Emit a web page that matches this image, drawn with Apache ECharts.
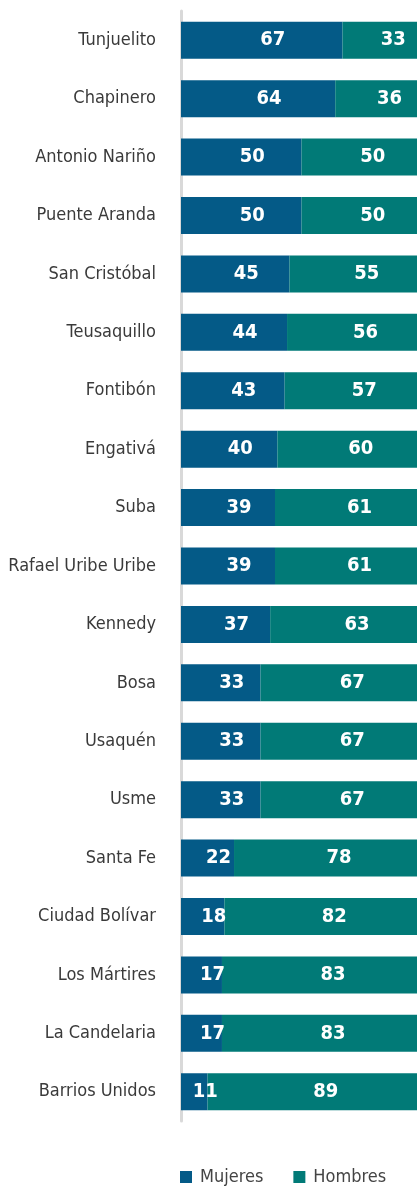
<!DOCTYPE html>
<html>
<head>
<meta charset="utf-8">
<script src="https://cdn.jsdelivr.net/npm/echarts@6/dist/echarts.min.js"></script>
<style>
  html, body { margin: 0; padding: 0; background: #fff; }
  #chart { width: 417px; height: 1188px; }
</style>
</head>
<body>
<div id="chart"></div>
<script>
var localidades = ['Tunjuelito', 'Chapinero', 'Antonio Nariño', 'Puente Aranda', 'San Cristóbal',
  'Teusaquillo', 'Fontibón', 'Engativá', 'Suba', 'Rafael Uribe Uribe', 'Kennedy', 'Bosa',
  'Usaquén', 'Usme', 'Santa Fe', 'Ciudad Bolívar', 'Los Mártires', 'La Candelaria', 'Barrios Unidos'];
var mujeres = [67, 64, 50, 50, 45, 44, 43, 40, 39, 39, 37, 33, 33, 33, 22, 18, 17, 17, 11];
var hombres = [33, 36, 50, 50, 55, 56, 57, 60, 61, 61, 63, 67, 67, 67, 78, 82, 83, 83, 89];

var font = "'Liberation Sans Narrow', 'DejaVu Sans Condensed', 'Noto Sans', sans-serif";

var chart = echarts.init(document.getElementById('chart'));

var valueLabel = {
  show: true,
  color: '#fff',
  fontWeight: 'bold',
  fontSize: 20,
  fontFamily: font,
  offset: [11, 0]
};

var option = {
  animation: false,
  grid: { left: 181, right: -5, top: 11, bottom: 67, containLabel: false, outerBoundsMode: 'none' },
  legend: {
    left: 175,
    top: 1163,
    itemWidth: 12,
    itemHeight: 12,
    itemGap: 30,
    icon: 'rect',
    textStyle: { fontSize: 18, color: '#444', fontFamily: font, padding: [0, 0, 0, 3] },
    data: ['Mujeres', 'Hombres']
  },
  xAxis: {
    type: 'value',
    min: 0,
    max: 100,
    show: false
  },
  yAxis: {
    type: 'category',
    inverse: true,
    data: localidades,
    offset: 1,
    axisLine: { show: true, lineStyle: { color: '#d9d9d9', width: 3 } },
    axisTick: { show: false },
    axisLabel: { margin: 24, fontSize: 18, color: '#3a3a3a', fontFamily: font }
  },
  series: [
    {
      name: 'Mujeres',
      type: 'bar',
      stack: 'total',
      barWidth: 37,
      itemStyle: { color: '#045a87' },
      label: valueLabel,
      data: mujeres
    },
    {
      name: 'Hombres',
      type: 'bar',
      stack: 'total',
      barWidth: 37,
      itemStyle: { color: '#017a77' },
      label: valueLabel,
      data: hombres
    }
  ]
};

chart.setOption(option);
</script>
</body>
</html>
